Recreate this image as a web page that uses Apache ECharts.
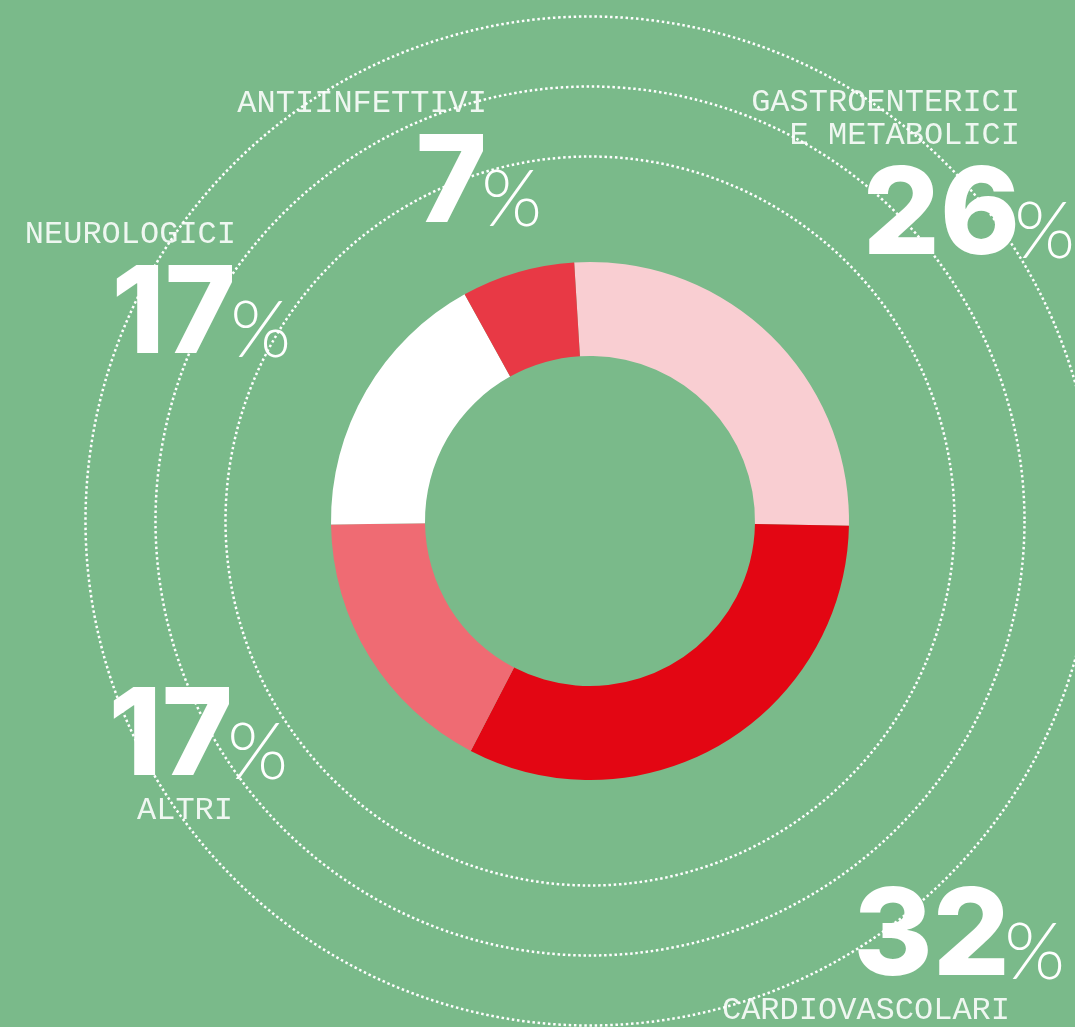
<!DOCTYPE html>
<html>
<head>
<meta charset="utf-8">
<script src="https://cdn.jsdelivr.net/npm/echarts@6/dist/echarts.min.js"></script>
<style>
  html, body { margin: 0; padding: 0; background: #7aba8a; }
  #chart { width: 1075px; height: 1027px; }
</style>
</head>
<body>
<div id="chart"></div>
<script>
var chartDom = document.getElementById('chart');
var myChart = echarts.init(chartDom);

// dati (percentuali per area terapeutica)
const names = ['GASTROENTERICI\nE METABOLICI', 'CARDIOVASCOLARI', 'ALTRI', 'NEUROLOGICI', 'ANTIINFETTIVI'];
const values = [26, 32, 17, 17, 7];
const colors = ['#f9ced2', '#e30613', '#ef6b73', '#ffffff', '#e83945'];

// posizione etichette: x = bordo destro del numero, y = bordo alto, nameFirst = nome sopra il numero
const labelPos = [
  { x: 1020, y: 86, nameFirst: true },
  { x: 1010, y: 884, nameFirst: false },
  { x: 233, y: 684, nameFirst: false },
  { x: 236, y: 218, nameFirst: true },
  { x: 487, y: 87, nameFirst: true }
];

const PCT_W = 55;
const ringRadii = [364.5, 434.5, 504.5];
const cx = 590, cy = 521;

let rings = ringRadii.map(r => ({
  type: 'circle',
  shape: { cx: cx, cy: cy, r: r },
  style: { fill: 'none', stroke: '#ffffff', lineWidth: 2.5, lineDash: [2.5, 2.7] },
  silent: true
}));

let option = {
  backgroundColor: '#7aba8a',
  animation: false,
  graphic: rings,
  series: [
    {
      type: 'pie',
      center: [cx, cy],
      radius: [165, 259],
      startAngle: 93.5,
      clockwise: true,
      avoidLabelOverlap: false,
      silent: true,
      data: values.map((v, i) => ({
        name: names[i],
        value: v,
        itemStyle: { color: colors[i] }
      })),
      labelLine: { show: false },
      label: {
        show: true,
        position: 'outside',
        align: 'right',
        formatter: function (p) {
          let nameLines = p.name.split('\n').map(s => '{name|' + s + '}').join('\n');
          if (labelPos[p.dataIndex].nameFirst) {
            return nameLines + '\n{num|' + p.value + '}{pct|%}';
          }
          return '{num2|' + p.value + '}{pct|%}\n' + nameLines;
        },
        rich: {
          name: {
            fontFamily: 'Liberation Mono',
            fontSize: 32,
            lineHeight: 33,
            color: 'rgba(255,255,255,0.88)',
            padding: [0, PCT_W, 0, 0]
          },
          num: {
            fontFamily: 'Inter',
            fontWeight: 800,
            fontSize: 121,
            lineHeight: 132,
            color: '#ffffff'
          },
          num2: {
            fontFamily: 'Inter',
            fontWeight: 800,
            fontSize: 121,
            lineHeight: 110,
            color: '#ffffff'
          },
          pct: {
            fontFamily: 'Lato',
            fontWeight: 300,
            fontSize: 78,
            lineHeight: 76,
            padding: [30, 0, 0, 0],
            verticalAlign: 'middle',
            width: PCT_W,
            color: '#ffffff'
          }
        }
      },
      labelLayout: function (params) {
        let lp = labelPos[params.dataIndex];
        return { x: lp.x + PCT_W, y: lp.y, align: 'right', verticalAlign: 'top' };
      }
    }
  ]
};

option && myChart.setOption(option);
</script>
</body>
</html>
